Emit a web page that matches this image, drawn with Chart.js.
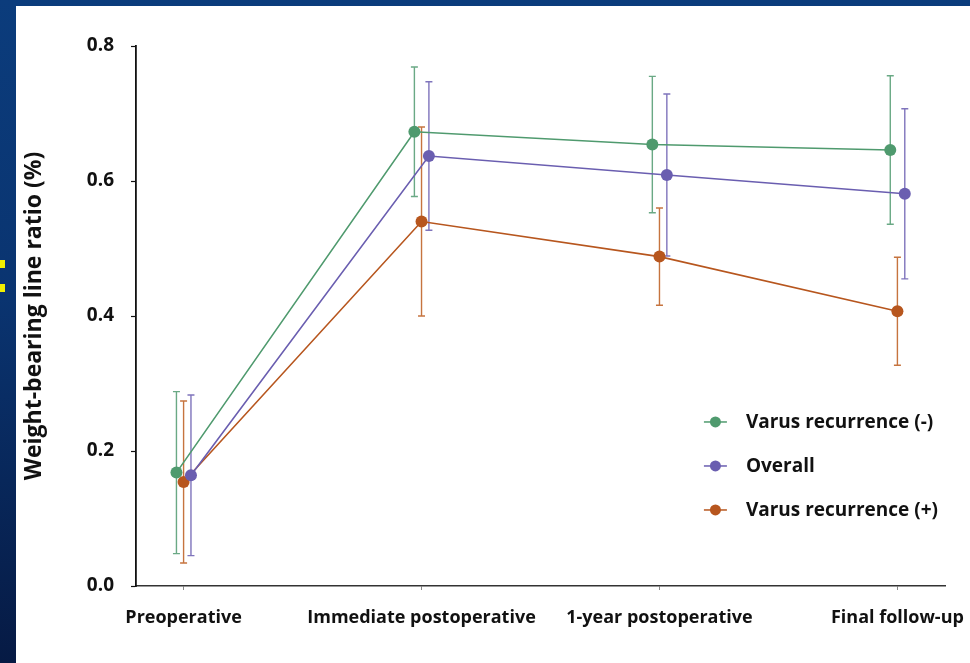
<!DOCTYPE html>
<html>
<head>
<meta charset="utf-8">
<script src="https://cdn.jsdelivr.net/npm/chart.js@4.4.1/dist/chart.umd.min.js"></script>
<style>
  html, body { margin: 0; padding: 0; }
  body {
    width: 970px; height: 663px; overflow: hidden; position: relative;
    background: linear-gradient(180deg, #0b3c7c 0%, #0a3470 45%, #061a44 100%);
  }
  .panel { position: absolute; left: 16px; top: 6px; right: 0; bottom: 0; background: #fff; }
  .mark { position: absolute; left: 0; width: 5px; height: 8px; background: #f2f000; }
  #wrap { position: absolute; left: 0; top: 0; width: 970px; height: 663px; }
</style>
</head>
<body>
<div class="panel"></div>
<div class="mark" style="top:260px"></div>
<div class="mark" style="top:284px"></div>
<div id="wrap"><canvas id="wblChart" width="970" height="663"></canvas></div>
<script>
const categories = ['Preoperative', 'Immediate postoperative', '1-year postoperative', 'Final follow-up'];
const seriesNames = ['Varus recurrence (-)', 'Overall', 'Varus recurrence (+)'];

// mean and SD per time point
const negMean = [0.168, 0.673, 0.654, 0.646];
const negSD = [0.120, 0.096, 0.101, 0.110];
const allMean = [0.164, 0.637, 0.609, 0.581];
const allSD = [0.119, 0.110, 0.120, 0.126];
const posMean = [0.154, 0.540, 0.488, 0.407];
const posSD = [0.120, 0.140, 0.072, 0.080];

const yTicks = [0, 0.2, 0.4, 0.6, 0.8];

const colors = ['#4f9a6e', '#6a5eb0', '#b7561e'];
const barColors = ['#6aa985', '#7f74bc', '#c6743f'];
const dodge = [-0.03, 0.031, 0]; // small shift so error bars don't overlap

function toPoints(means, shift) {
  return means.map((v, i) => ({ x: i + shift, y: v }));
}

const seriesMeans = [negMean, allMean, posMean];
const seriesSD = [negSD, allSD, posSD];

const errorBars = {
  id: 'errorBars',
  beforeDatasetsDraw(chart) {
    const ctx = chart.ctx;
    const ys = chart.scales.y;
    chart.data.datasets.forEach((ds, d) => {
      const meta = chart.getDatasetMeta(d);
      ctx.save();
      ctx.strokeStyle = barColors[d];
      ctx.lineWidth = 1.4;
      meta.data.forEach((pt, i) => {
        const m = seriesMeans[d][i], s = seriesSD[d][i];
        const top = ys.getPixelForValue(m + s);
        const bot = ys.getPixelForValue(m - s);
        ctx.beginPath();
        ctx.moveTo(pt.x, top); ctx.lineTo(pt.x, bot);
        ctx.moveTo(pt.x - 3.5, top); ctx.lineTo(pt.x + 3.5, top);
        ctx.moveTo(pt.x - 3.5, bot); ctx.lineTo(pt.x + 3.5, bot);
        ctx.stroke();
      });
      ctx.restore();
    });
  }
};

const innerLegend = {
  id: 'innerLegend',
  afterDraw(chart) {
    const ctx = chart.ctx;
    const area = chart.chartArea;
    const x0 = area.left + 0.702 * (area.right - area.left);
    const y0 = chart.scales.y.getPixelForValue(0.243);
    const gap = 44;
    ctx.save();
    ctx.font = 'bold 19px "Open Sans"';
    ctx.textBaseline = 'middle';
    seriesNames.forEach((name, i) => {
      const y = y0 + i * gap;
      ctx.strokeStyle = colors[i];
      ctx.lineWidth = 1.5;
      ctx.beginPath();
      ctx.moveTo(x0, y); ctx.lineTo(x0 + 23, y);
      ctx.stroke();
      ctx.fillStyle = colors[i];
      ctx.beginPath();
      ctx.arc(x0 + 11.5, y, 5.5, 0, Math.PI * 2);
      ctx.fill();
      ctx.fillStyle = '#111';
      ctx.fillText(name, x0 + 42, y + 1);
    });
    ctx.restore();
  }
};

document.addEventListener('DOMContentLoaded', () => {
  const ctx = document.getElementById('wblChart').getContext('2d');
  new Chart(ctx, {
    type: 'line',
    data: {
      datasets: seriesNames.map((name, d) => ({
        label: name,
        data: toPoints(seriesMeans[d], dodge[d]),
        borderColor: colors[d],
        backgroundColor: colors[d],
        borderWidth: 1.6,
        pointRadius: 6,
        pointBorderWidth: 0,
        pointBackgroundColor: colors[d],
        tension: 0
      }))
    },
    options: {
      responsive: false,
      animation: false,
      devicePixelRatio: 1,
      layout: { padding: { top: 46, right: 25, bottom: 0, left: 0 } },
      plugins: { legend: { display: false }, tooltip: { enabled: false } },
      scales: {
        x: {
          type: 'linear',
          min: -0.2,
          max: 3.2,
          afterBuildTicks(scale) {
            scale.ticks = categories.map((c, i) => ({ value: i }));
          },
          afterFit(scale) {
            scale.height = 77;
            // let the last label run into the margin like the original
            scale.paddingLeft = 0;
            scale.paddingRight = 0;
          },
          grid: { drawOnChartArea: false, tickLength: 4, color: '#888', tickWidth: 1 },
          border: { color: '#333', width: 1.5 },
          ticks: {
            color: '#111',
            padding: 17,
            maxRotation: 0,
            font: { family: 'Open Sans', size: 18, weight: 'bold' },
            callback: (v) => categories[v]
          }
        },
        y: {
          min: 0,
          max: 0.8,
          afterBuildTicks(scale) {
            scale.ticks = yTicks.map(v => ({ value: v }));
          },
          afterFit(scale) { scale.width = 136; },
          grid: { drawOnChartArea: false, tickLength: 5, color: '#111', tickWidth: 1.2 },
          border: { color: '#111', width: 1.8 },
          ticks: {
            color: '#111',
            padding: 17,
            font: { family: 'Open Sans', size: 19, weight: 'bold' },
            callback: (v) => v.toFixed(1)
          },
          title: {
            display: true,
            text: 'Weight-bearing line ratio (%)',
            color: '#111',
            padding: { top: 21, bottom: 0 },
            font: { family: 'Open Sans', size: 23, weight: 'bold' }
          }
        }
      }
    },
    plugins: [errorBars, innerLegend]
  });
});
</script>
</body>
</html>
